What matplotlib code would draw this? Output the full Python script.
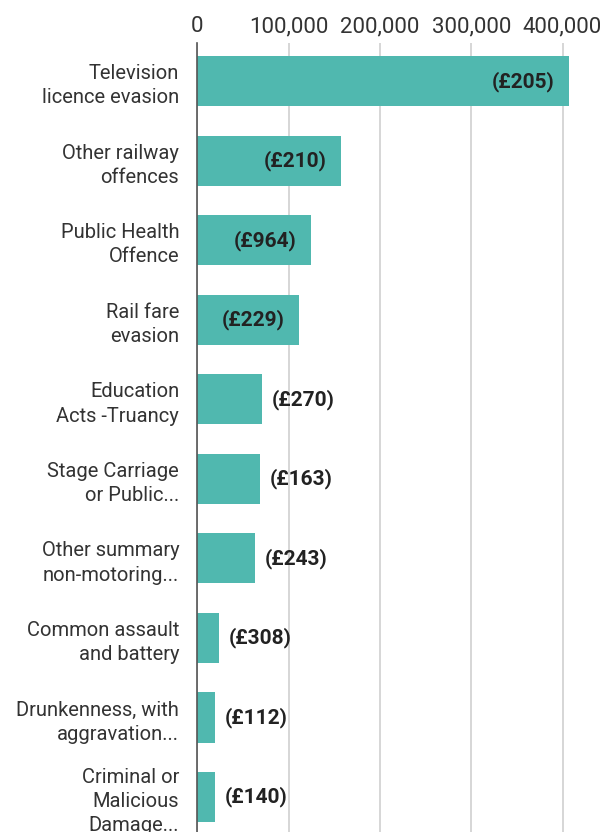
import matplotlib
matplotlib.use("Agg")
import matplotlib.pyplot as plt
from matplotlib.ticker import FuncFormatter
import matplotlib.transforms as mtransforms

categories = [
    "Television\nlicence evasion",
    "Other railway\noffences",
    "Public Health\nOffence",
    "Rail fare\nevasion",
    "Education\nActs -Truancy",
    "Stage Carriage\nor Public...",
    "Other summary\nnon-motoring...",
    "Common assault\nand battery",
    "Drunkenness, with\naggravation...",
    "Criminal or\nMalicious\nDamage...",
]
counts = [407000, 157500, 124500, 111500, 71000, 68700, 63200, 23800, 19500, 19500]
fines = ["(£205)", "(£210)", "(£964)", "(£229)", "(£270)", "(£163)", "(£243)", "(£308)", "(£112)", "(£140)"]
ticks = [0, 100000, 200000, 300000, 400000]
inside = [True, True, True, True, False, False, False, False, False, False]

plt.rcParams['font.family'] = ['Roboto', 'DejaVu Sans']

W, H = 607, 832
fig = plt.figure(figsize=(W / 100, H / 100), dpi=100)
left = 197.3 / W
top_px = 43
ax = fig.add_axes([left, 0, 1 - left, 1 - top_px / H])

ypos = list(range(len(categories)))
ax.barh(ypos, counts, height=0.63, color="#50b8af", zorder=2)
ax.set_ylim(9.44, -0.48)
ax.set_xlim(0, (W - 197.3) / 0.913 * 1000)

ax.set_xticks(ticks)
ax.xaxis.set_major_formatter(FuncFormatter(lambda v, p: f"{int(v):,}"))
ax.xaxis.tick_top()
ax.tick_params(axis="x", length=0, pad=4, labelsize=16, labelcolor="#333333")
ax.set_yticks(ypos)
ax.set_yticklabels(categories, fontsize=14.5, color="#333333", linespacing=1.35)
ax.tick_params(axis="y", length=0, pad=13)
for lab in ax.get_yticklabels():
    lab.set_horizontalalignment("right")
    lab.set_multialignment("right")

ax.grid(axis="x", color="#d0d0d0", linewidth=1.2, zorder=0)
ax.grid(axis="y", visible=False)
for s in ["top", "right", "bottom"]:
    ax.spines[s].set_visible(False)
ax.spines["left"].set_color("#555555")
ax.spines["left"].set_linewidth(1.2)
ax.spines["left"].set_zorder(3)

for i, (v, f, ins) in enumerate(zip(counts, fines, inside)):
    if ins:
        off = mtransforms.offset_copy(ax.transData, fig=fig, x=-14, y=0, units="dots")
        ax.text(v, i, f, transform=off, ha="right", va="center", fontsize=15,
                fontweight="bold", color="#222222", zorder=4)
    else:
        off = mtransforms.offset_copy(ax.transData, fig=fig, x=10, y=0, units="dots")
        ax.text(v, i, f, transform=off, ha="left", va="center", fontsize=15,
                fontweight="bold", color="#222222", zorder=4)

fig.savefig("out.png", dpi=100)
